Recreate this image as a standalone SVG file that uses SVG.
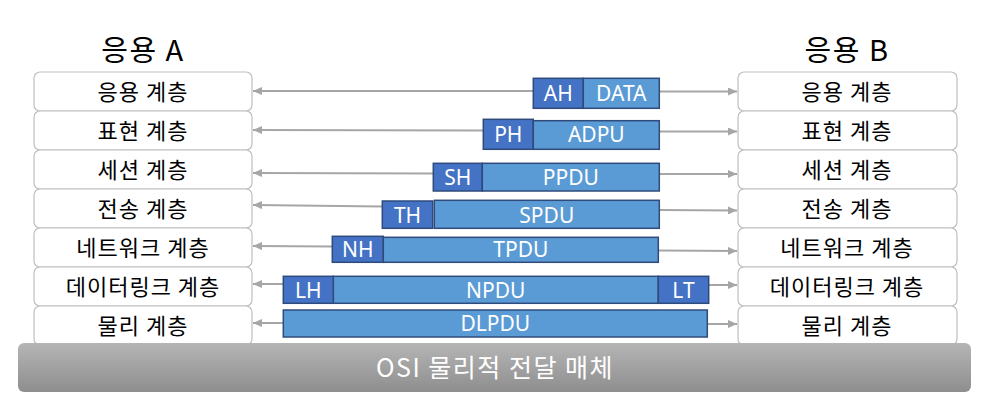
<svg xmlns="http://www.w3.org/2000/svg" width="1005" height="417" viewBox="0 0 1005 417">
<defs>
<style>
.layer{fill:#fff;stroke:#BFBFBF;stroke-width:1.2}
.lt{font-family:"Noto Sans CJK KR","Noto Sans",sans-serif;font-size:22px;letter-spacing:1px;fill:#000;text-anchor:middle}
.title{font-family:"Noto Sans CJK KR","Noto Sans",sans-serif;font-size:29px;letter-spacing:1.5px;fill:#000;text-anchor:middle}
.hdr{fill:#4472C4;stroke:#2F4B7C;stroke-width:1.5}
.pay{fill:#5B9BD5;stroke:#2F4B7C;stroke-width:1.5}
.pt{font-family:"Noto Sans","Noto Sans CJK KR",sans-serif;font-size:21px;fill:#fff;text-anchor:middle}
.arr{stroke:#A6A6A6;stroke-width:2;fill:none;marker-end:url(#ah)}
.bt{font-family:"Noto Sans CJK KR","Noto Sans",sans-serif;font-size:25px;letter-spacing:1.5px;fill:#fff;text-anchor:middle}
</style>
<marker id="ah" markerUnits="userSpaceOnUse" markerWidth="10" markerHeight="8" refX="9" refY="4" orient="auto">
<path d="M0,0 L9,4 L0,8 Z" fill="#A6A6A6"/>
</marker>
<linearGradient id="gb" x1="0" y1="0" x2="0" y2="1">
<stop offset="0" stop-color="#B5B5B5"/>
<stop offset="1" stop-color="#8E8E8E"/>
</linearGradient>
</defs>

<g id="titleA"><text class="title" x="143" y="61">응용 A</text></g>
<g id="titleB"><text class="title" x="847" y="61">응용 B</text></g>

<g id="stackA">
<g id="a-app"><rect class="layer" x="34" y="72" width="218" height="39" rx="6"/><text class="lt" x="143" y="99.5">응용 계층</text></g>
<g id="a-pre"><rect class="layer" x="34" y="111" width="218" height="39" rx="6"/><text class="lt" x="143" y="138.5">표현 계층</text></g>
<g id="a-ses"><rect class="layer" x="34" y="150" width="218" height="39" rx="6"/><text class="lt" x="143" y="177.5">세션 계층</text></g>
<g id="a-tra"><rect class="layer" x="34" y="189" width="218" height="39" rx="6"/><text class="lt" x="143" y="216.5">전송 계층</text></g>
<g id="a-net"><rect class="layer" x="34" y="228" width="218" height="39" rx="6"/><text class="lt" x="143" y="255.5">네트워크 계층</text></g>
<g id="a-dl"><rect class="layer" x="34" y="267" width="218" height="39" rx="6"/><text class="lt" x="143" y="294.5">데이터링크 계층</text></g>
<g id="a-phy"><rect class="layer" x="34" y="306" width="218" height="39" rx="6"/><text class="lt" x="143" y="333.5">물리 계층</text></g>
</g>

<g id="stackB">
<g id="b-app"><rect class="layer" x="738" y="72" width="219" height="39" rx="6"/><text class="lt" x="847" y="99.5">응용 계층</text></g>
<g id="b-pre"><rect class="layer" x="738" y="111" width="219" height="39" rx="6"/><text class="lt" x="847" y="138.5">표현 계층</text></g>
<g id="b-ses"><rect class="layer" x="738" y="150" width="219" height="39" rx="6"/><text class="lt" x="847" y="177.5">세션 계층</text></g>
<g id="b-tra"><rect class="layer" x="738" y="189" width="219" height="39" rx="6"/><text class="lt" x="847" y="216.5">전송 계층</text></g>
<g id="b-net"><rect class="layer" x="738" y="228" width="219" height="39" rx="6"/><text class="lt" x="847" y="255.5">네트워크 계층</text></g>
<g id="b-dl"><rect class="layer" x="738" y="267" width="219" height="39" rx="6"/><text class="lt" x="847" y="294.5">데이터링크 계층</text></g>
<g id="b-phy"><rect class="layer" x="738" y="306" width="219" height="39" rx="6"/><text class="lt" x="847" y="333.5">물리 계층</text></g>
</g>

<g id="connectors">
<line class="arr" x1="533" y1="91" x2="253" y2="91"/>
<line class="arr" x1="659" y1="91.5" x2="737" y2="91.5"/>
<line class="arr" x1="483" y1="130.5" x2="253" y2="130"/>
<line class="arr" x1="659" y1="131.5" x2="737" y2="131.5"/>
<line class="arr" x1="433" y1="173.5" x2="253" y2="173"/>
<line class="arr" x1="659" y1="174" x2="737" y2="174"/>
<line class="arr" x1="382" y1="206.5" x2="253" y2="205"/>
<line class="arr" x1="659" y1="210" x2="737" y2="210.5"/>
<line class="arr" x1="332" y1="246.5" x2="253" y2="246"/>
<line class="arr" x1="658" y1="250.5" x2="737" y2="251"/>
<line class="arr" x1="283" y1="284" x2="253" y2="284"/>
<line class="arr" x1="709" y1="285" x2="737" y2="285"/>
<line class="arr" x1="283" y1="323" x2="253" y2="323"/>
<line class="arr" x1="707" y1="324" x2="737" y2="324"/>
</g>

<g id="pdu-app">
<rect class="hdr" x="533.3" y="78.3" width="50" height="30"/><text class="pt" x="558.3" y="101">AH</text>
<rect class="pay" x="583.3" y="78.3" width="76" height="30"/><text class="pt" x="621.3" y="101">DATA</text>
</g>
<g id="pdu-pre">
<rect class="hdr" x="483.3" y="119.3" width="50" height="30"/><text class="pt" x="508.3" y="142">PH</text>
<rect class="pay" x="533.3" y="120.7" width="126" height="28.6"/><text class="pt" x="596.3" y="142">ADPU</text>
</g>
<g id="pdu-ses">
<rect class="hdr" x="433.3" y="163.3" width="49" height="27.7"/><text class="pt" x="457.8" y="185">SH</text>
<rect class="pay" x="482.3" y="163.3" width="177" height="27.7"/><text class="pt" x="570.8" y="185">PPDU</text>
</g>
<g id="pdu-tra">
<rect class="hdr" x="382.3" y="201" width="50.4" height="27.3"/><text class="pt" x="407.5" y="222.5">TH</text>
<rect class="pay" x="434.3" y="200.3" width="225" height="28"/><text class="pt" x="546.8" y="222.5">SPDU</text>
</g>
<g id="pdu-net">
<rect class="hdr" x="332.3" y="236.3" width="51" height="26"/><text class="pt" x="357.8" y="257">NH</text>
<rect class="pay" x="383.3" y="237.3" width="275" height="25"/><text class="pt" x="520.8" y="257">TPDU</text>
</g>
<g id="pdu-dl">
<rect class="pay" x="333.3" y="276.3" width="325" height="27"/><text class="pt" x="495.8" y="297.5">NPDU</text>
<rect class="hdr" x="283.3" y="276.3" width="50" height="27"/><text class="pt" x="308.3" y="297.5">LH</text>
<rect class="hdr" x="658.3" y="276.3" width="50.4" height="27"/><text class="pt" x="683.5" y="297.5">LT</text>
</g>
<g id="pdu-phy">
<rect class="pay" x="283.3" y="310" width="424" height="27"/><text class="pt" x="495.3" y="331">DLPDU</text>
</g>

<g id="medium">
<rect x="18" y="343" width="953" height="49" rx="6" fill="url(#gb)"/>
<text class="bt" x="495" y="376.5">OSI 물리적 전달 매체</text>
</g>
</svg>
